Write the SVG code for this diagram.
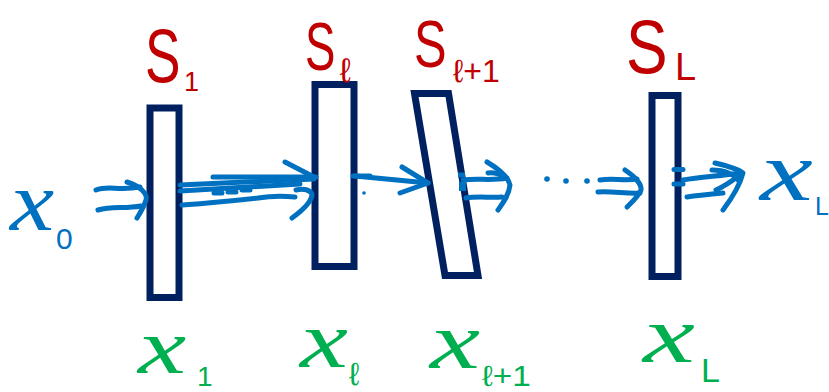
<svg xmlns="http://www.w3.org/2000/svg" width="829" height="392" viewBox="0 0 829 392">
  <style>
    .box { fill: none; stroke: #002060; stroke-width: 7; stroke-linejoin: miter; }
    .ink { fill: none; stroke: #0070c0; stroke-width: 5; stroke-linecap: round; stroke-linejoin: round; }
    .dot { fill: #0070c0; }
    .sname { fill: #c00000; font-family: "Liberation Sans", "DejaVu Sans", sans-serif; }
    .var { font-family: "Liberation Serif", "DejaVu Serif", serif; font-style: italic; }
    .blue { fill: #0070c0; }
    .green { fill: #00b050; }
    .sub { font-family: "Liberation Sans", "DejaVu Sans", sans-serif; font-style: normal; }
  </style>

  <!-- input -->
  <g id="input-x0">
    <text class="var blue" transform="translate(10,230) scale(1.17,1)" font-size="85">x</text>
    <text class="sub blue" x="56" y="249" font-size="30">0</text>
  </g>

  <!-- layer 1 -->
  <g id="layer-1">
    <rect class="box" x="150" y="108" width="29" height="189.5"/>
    <text class="sname" transform="translate(145,82) scale(0.7,1)" font-size="76">S</text>
    <text class="sname" x="184" y="91" font-size="27">1</text>
    <text class="var green" transform="translate(138,373) scale(1.39,1)" font-size="78">x</text>
    <text class="sub green" x="197" y="386" font-size="28">1</text>
  </g>

  <!-- layer l -->
  <g id="layer-l">
    <rect class="box" x="315" y="84.5" width="39" height="182"/>
    <text class="sname" transform="translate(305,70) scale(0.67,1)" font-size="68">S</text>
    <text class="sname" x="340" y="82" font-size="34">ℓ</text>
    <text class="var green" transform="translate(300,367) scale(1.35,1)" font-size="80">x</text>
    <text class="sub green" x="349" y="385" font-size="32">ℓ</text>
  </g>

  <!-- layer l+1 (tilted) -->
  <g id="layer-l1">
    <polygon class="box" points="414.5,93.5 448.5,93.5 478,275.5 445,275.5"/>
    <text class="sname" transform="translate(414,67) scale(0.74,1)" font-size="66">S</text>
    <text class="sname" x="453" y="82" font-size="32">ℓ+1</text>
    <text class="var green" transform="translate(430,368) scale(1.41,1)" font-size="80">x</text>
    <text class="sub green" transform="translate(482,386) scale(1.15,1)" font-size="29">ℓ+1</text>
  </g>

  <!-- layer L -->
  <g id="layer-L">
    <rect class="box" x="652" y="95.5" width="26" height="181"/>
    <text class="sname" transform="translate(626,73) scale(0.82,1)" font-size="76">S</text>
    <text class="sname" x="675" y="80" font-size="38">L</text>
    <text class="var green" transform="translate(643,362) scale(1.46,1)" font-size="80">x</text>
    <text class="sub green" x="701" y="382" font-size="34">L</text>
  </g>

  <!-- output -->
  <g id="output-xL">
    <text class="var blue" transform="translate(760,200) scale(1.4,1)" font-size="85">x</text>
    <text class="sub blue" x="815" y="215" font-size="25">L</text>
  </g>

  <!-- hand-drawn arrows between layers -->
  <g id="connectors">
    <!-- x0 into layer 1 -->
    <path class="ink" d="M96,190 C108,185 118,191 140,187"/>
    <path class="ink" d="M98,210 C112,206 125,209 141,206"/>
    <path class="ink" d="M127,182 C140,186 148,194 146,200 C144,207 140,213 137,218"/>

    <!-- layer 1 to layer l -->
    <path class="ink" stroke-width="8" d="M213,177 L316,177"/>
    <path class="ink" stroke-width="7" d="M180,185 L314,179"/>
    <path class="ink" d="M180,191 L300,184"/>
    <path class="ink" stroke-width="3" d="M214,193 L222,193 M228,192 L236,192 M242,190 L250,190"/>
    <path class="ink" stroke-width="4" d="M182,205 C210,203 240,200 258,198 C270,196 285,196 295,197"/>
    <path class="ink" stroke-width="6" d="M285,162 L314,177"/>
    <path class="ink" d="M296,190 C304,188 310,190 312,194 C312,201 303,210 292,218"/>

    <!-- layer l to layer l+1 -->
    <path class="ink" stroke-width="4" d="M353,176 L370,176"/>
    <path class="ink" stroke-width="7" d="M355,176 L428,183"/>
    <path class="ink" stroke-width="7" d="M402,167 L428,183 L400,193"/>
    <circle class="dot" cx="364" cy="193" r="1.8"/>

    <!-- layer l+1 onwards -->
    <rect class="dot" x="458" y="172.5" width="7" height="5"/>
    <rect class="dot" x="459" y="182" width="7" height="9"/>
    <path class="ink" d="M463,180 C478,178 492,181 507,178"/>
    <path class="ink" d="M466,198 C478,196 490,198 502,197"/>
    <path class="ink" d="M487,162 C497,168 508,176 510,185 C509,195 503,203 498,210"/>
    <path class="ink" stroke-width="4" d="M488,173 C495,172 502,175 505,178"/>

    <!-- ellipsis -->
    <circle class="dot" cx="547" cy="179" r="2.8"/>
    <circle class="dot" cx="566" cy="181" r="2.8"/>
    <circle class="dot" cx="587" cy="181" r="2.8"/>

    <!-- into layer L -->
    <path class="ink" d="M600,180 C612,178 625,181 637,179"/>
    <path class="ink" d="M598,192 C612,191 628,194 640,193"/>
    <path class="ink" d="M625,170 C634,176 642,184 641,190 C638,197 632,202 627,207"/>

    <!-- layer L to output -->
    <path class="ink" stroke-width="2.5" stroke-linecap="butt" d="M674,169.5 L683,169.5 M674,184 L683,184"/>
    <path class="ink" d="M683,180 C700,177 720,176 740,173"/>
    <path class="ink" d="M687,197 C700,195 712,194 723,193"/>
    <path class="ink" d="M715,163 C728,166 738,169 743,173 C740,185 732,198 723,210"/>
    <path class="ink" stroke-width="4" d="M712,170 C725,170 735,175 738,180"/>
    <path class="ink" stroke-width="4" d="M716,190 C725,186 732,181 740,175"/>
  </g>
</svg>
